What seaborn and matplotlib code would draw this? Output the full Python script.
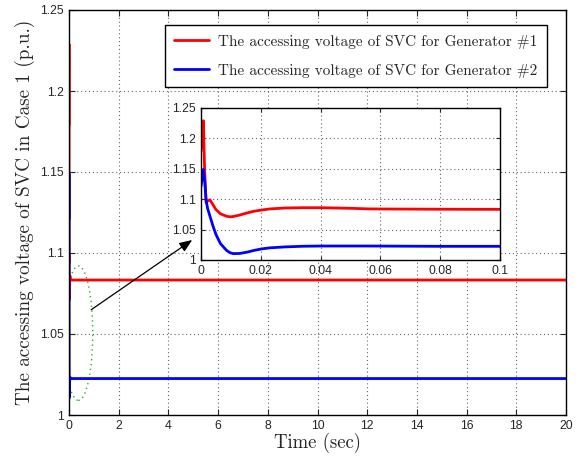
import numpy as np
import pandas as pd
import matplotlib
matplotlib.use("Agg")
import matplotlib.pyplot as plt
import seaborn as sns
from matplotlib.patches import Ellipse

# Data (time in seconds, voltage in p.u.)
time = [0, 0.0004, 0.0008, 0.0012, 0.0017, 0.0022, 0.003, 0.004, 0.005, 0.0065,
        0.0085, 0.0097, 0.0108, 0.013, 0.0155, 0.0175, 0.02, 0.023, 0.028,
        0.034, 0.04, 0.045, 0.05, 0.0565, 0.065, 0.08, 0.1, 20]
gen1 = [1.179, 1.205, 1.229, 1.150, 1.094, 1.097, 1.099, 1.091, 1.083, 1.076,
        1.072, 1.071, 1.0715, 1.074, 1.0775, 1.080, 1.082, 1.084, 1.0855,
        1.086, 1.086, 1.0855, 1.085, 1.084, 1.0838, 1.0835, 1.0833, 1.0833]
gen2 = [1.121, 1.135, 1.149, 1.132, 1.099, 1.085, 1.072, 1.056, 1.042, 1.027,
        1.016, 1.012, 1.0105, 1.0108, 1.013, 1.0155, 1.018, 1.020, 1.0215,
        1.0226, 1.023, 1.023, 1.023, 1.023, 1.0228, 1.0225, 1.0225, 1.0225]

label1 = "The accessing voltage of SVC for Generator #1"
label2 = "The accessing voltage of SVC for Generator #2"
xlabel = "Time (sec)"
ylabel = "The accessing voltage of SVC in Case 1 (p.u.)"
main_xticks = [0, 2, 4, 6, 8, 10, 12, 14, 16, 18, 20]
yticks = [1, 1.05, 1.1, 1.15, 1.2, 1.25]
ytick_labels = ["1", "1.05", "1.1", "1.15", "1.2", "1.25"]
inset_xticks = [0, 0.02, 0.04, 0.06, 0.08, 0.1]
inset_xtick_labels = ["0", "0.02", "0.04", "0.06", "0.08", "0.1"]

df = pd.DataFrame({
    "time": time * 2,
    "volt": gen1 + gen2,
    "series": [label1] * len(time) + [label2] * len(time),
})
palette = {label1: "#ff0000", label2: "#0000ff"}

sns.set_style("ticks")
plt.rcParams["font.family"] = ["Liberation Sans", "DejaVu Sans"]
plt.rcParams["mathtext.fontset"] = "cm"

W, H = 583, 462
fig = plt.figure(figsize=(W / 100, H / 100), dpi=100)

def ax_rect(l, t, r, b):
    return [l / W, 1 - b / H, (r - l) / W, (b - t) / H]

serif = "cmr10"
grid_style = dict(linestyle=(0, (1, 2.5)), color="#666666", linewidth=0.8)

ax = fig.add_axes(ax_rect(69, 10, 566, 415))
sns.lineplot(data=df, x="time", y="volt", hue="series", palette=palette,
             linewidth=2, ax=ax, legend=True, sort=False)
ax.set_xlim(0, 20)
ax.set_ylim(1, 1.25)
ax.set_xticks(main_xticks)
ax.set_xticklabels([str(v) for v in main_xticks])
ax.set_yticks(yticks)
ax.set_yticklabels(ytick_labels)
ax.grid(True, **grid_style)
ax.tick_params(direction="in", labelsize=8.8, length=4, width=0.8, top=True, right=True)
for s in ax.spines.values():
    s.set_linewidth(1.0)
    s.set_color("black")
ax.set_xlabel(xlabel, fontsize=13.5, family=serif, labelpad=1)
ax.set_ylabel(ylabel, fontsize=13.8, family=serif, labelpad=4)

leg = ax.legend(loc="upper right", bbox_to_anchor=(0.961, 0.962), frameon=True,
                fancybox=False, framealpha=1, edgecolor="black",
                prop={"family": serif, "size": 11}, handlelength=2.3,
                handletextpad=0.6, borderpad=0.6, labelspacing=1.0,
                borderaxespad=0)
leg.get_frame().set_linewidth(1.0)
for h in leg.get_lines():
    h.set_linewidth(2)

# ellipse and arrow
ell = Ellipse((0.38, 1.0505), width=1.15, height=0.083, angle=0,
              fill=False, edgecolor="#33aa33", linestyle=(0, (1, 2.5)), linewidth=1)
ax.add_patch(ell)
ax.annotate("", xy=(5.05, 1.109), xytext=(0.8, 1.064),
            arrowprops=dict(arrowstyle="-|>,head_length=0.55,head_width=0.22",
                            color="black", lw=0.9, mutation_scale=14))

# inset
axi = fig.add_axes(ax_rect(201, 108, 500, 260))
sns.lineplot(data=df, x="time", y="volt", hue="series", palette=palette,
             linewidth=2, ax=axi, legend=False, sort=False)
axi.set_xlim(0, 0.1)
axi.set_ylim(1, 1.25)
axi.set_xticks(inset_xticks)
axi.set_xticklabels(inset_xtick_labels)
axi.set_yticks(yticks)
axi.set_yticklabels(ytick_labels)
axi.set_xlabel("")
axi.set_ylabel("")
axi.grid(True, **grid_style)
axi.tick_params(direction="in", labelsize=8.8, length=3, width=0.8, top=True, right=True)
for s in axi.spines.values():
    s.set_linewidth(1.0)
    s.set_color("black")
axi.set_facecolor("white")

fig.savefig("out.png", dpi=100)
